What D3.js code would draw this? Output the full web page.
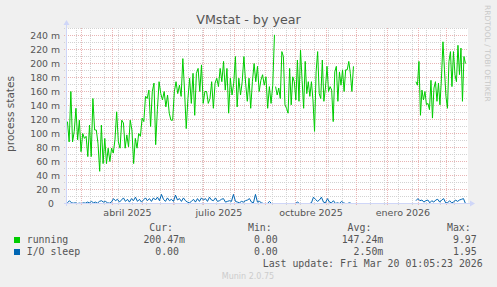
<!DOCTYPE html>
<html><head><meta charset="utf-8">
<script src="https://cdn.jsdelivr.net/npm/d3@7"></script>
<style>html,body{margin:0;padding:0;background:#f0f0f0;}svg{display:block}</style>
</head><body>
<svg id="c" width="497" height="287"></svg>
<script>
// ---------------- data ----------------
const yTicks = [0,20,40,60,80,100,120,140,160,180,200,220,240];
const xLabelMonths = ["2025-04-01","2025-07-01","2025-10-01","2026-01-01"];
const xLabelText = ["abril 2025","julio 2025","octubre 2025","enero 2026"];

// running (milli process states), traced in consecutive segments
const runningA1 = [117,88,160,88,103,136,91,119,74,100,93,96,67,112,67,150,105,105,86,46,
 112,57,93,57,79,60,79,72,91,131,88,79,119,115,79,98,81,119,105,57,
 93,79,100,96,122,117,153,150,162,110,160,172,84,134,174,157,148,160,138,155,
 129,119,119,160,174,157,169,153,207,162,107,150,179,143,186,126,186,193,160,198,
 143,160,160,143,150,174,136,172,179,167,193,174,203,162,193,129,179,155,172,210,
 138,179,155,174,210,172,146,179,136,174,200,174,196,160,176,184,169,181,136,167,
 143,169,241];
const runningA2 = [167,155,165,150,217,210,141,136,129,193,141,181,174,148,205,146,219,176,136,203,
 157,174,153,174,148,103,188,217,157,150,205,146,165,196,160,167,162,117,188,196,
 146,188,169,191,160,191,191,203,186,160,196];
const runningB = [174,169,203,126,162,148,160,141,143,134,176,122,165,174,146,172,141,179,231,191,
 153,136,203,217,167,217,184,174,226,184,222,146,210,200];
const runningStarts = ["2025-02-15T00:00","2025-09-11T04:00","2026-01-29T12:00"];
const runningEnds   = ["2025-09-10T00:00","2025-11-28T00:00","2026-03-20T00:00"];

// I/O sleep (milli)
const ioSleepA = [1,4,1,0.5,1,0,0.5,0,1,0.5,2,1,3,1,2,0.5,3,4,2,3,
 1,0.5,2,7,4,6,2,5,8,3,6,2,7,4,9,3,6,2,5,8,
 4,7,3,8,5,9,4,13,6,3,8,4,6,3,12,5,7,3,8,4,
 2,1,3,6,2,7,3,8,5,7,3,9,5,4,8,3,4,6,7,2,
 3,4,3,13,3,2,1,3,2,4,5,7,2,1,13,2,3,1,0,0,
 0,3,0,0,0,0,0,0,0,0,0,0,0,0,0,2,0,0,0,0,
 0,0,1,9,6,3,5,9,2,1,7,2,1,4,0,1,0,3,1,0,
 0,1,0,0];
const ioSleepB = [4,7,4,5,2,4,5,1,4,2,5,6,2,5,7,1,1,4,1,2,5,3,5,6,7,0];
const ioStarts = ["2025-02-15T00:00","2026-01-29T12:00"];
const ioEnds   = ["2025-11-28T00:00","2026-03-20T00:00"];

const legendNames = ["running","I/O sleep"];
const legendCur = ["200.47m","0.00"];
const legendMin = ["0.00","0.00"];
const legendAvg = ["147.24m","2.50m"];
const legendMax = ["9.97","1.95"];
const lastUpdate = "Last update: Fri Mar 20 01:05:23 2026";

// ---------------- chart ----------------
const colors = ["#00cc00","#0066b3"];
const parse = s => new Date(s + "Z");
const endTime = new Date(Date.UTC(2026,2,20,1,5,23));
const startTime = new Date(+endTime - 400*864e5);
const x = d3.scaleUtc().domain([startTime,endTime]).range([65.5,465.5]);
const y = d3.scaleLinear().domain([0,250]).range([203.5,28.5]);

function spread(vals, s, e){
  const t0 = +parse(s), t1 = +parse(e), n = vals.length;
  return vals.map((v,i)=>({t:new Date(t0 + (t1-t0)*i/(n-1)), v}));
}

const svg = d3.select("#c");
svg.append("rect").attr("width",497).attr("height",287).attr("fill","#f0f0f0");
svg.append("rect").attr("x",67).attr("y",28).attr("width",401).attr("height",175.5).attr("fill","#ffffff");

const grid = svg.append("g");
// minor horizontal
d3.range(10,251,10).filter(v=>v%20!==0).forEach(v=>{
  grid.append("line").attr("x1",64).attr("x2",468).attr("y1",y(v)).attr("y2",y(v))
   .attr("stroke","#d2d2d2").attr("stroke-dasharray","1,1");
});
// minor vertical, every two weeks
const minorStart = d3.utcMonday.ceil(new Date(Date.UTC(2025,1,24)));
d3.utcDay.range(minorStart, endTime, 14).forEach(d=>{
  grid.append("line").attr("x1",x(d)).attr("x2",x(d)).attr("y1",28).attr("y2",206)
   .attr("stroke","#d2d2d2").attr("stroke-dasharray","1,1");
});
// major horizontal
yTicks.filter(v=>v>0).forEach(v=>{
  grid.append("line").attr("x1",64).attr("x2",468).attr("y1",y(v)).attr("y2",y(v))
   .attr("stroke","#e8b4b4").attr("stroke-dasharray","1,1");
});
// major vertical (months)
d3.utcMonth.range(d3.utcMonth.ceil(startTime), endTime).forEach(d=>{
  grid.append("line").attr("x1",x(d)).attr("x2",x(d)).attr("y1",28).attr("y2",206)
   .attr("stroke","#e8b4b4").attr("stroke-dasharray","1,1");
});

// y tick labels
const fontSans = "DejaVu Sans, sans-serif";
yTicks.forEach(v=>{
  svg.append("text").attr("x", v===0 ? 54 : 60).attr("y", y(v)+3.3)
   .attr("text-anchor","end").attr("font-family",fontSans).attr("font-size","9.3px")
   .attr("fill","#555").text(v===0 ? "0" : v+" m");
});
// x labels at month midpoints
xLabelMonths.forEach((m,i)=>{
  const a = parse(m+"T00:00"), b = d3.utcMonth.offset(a,1);
  const mid = new Date((+a + +b)/2);
  svg.append("text").attr("x",x(mid)).attr("y",216).attr("text-anchor","middle")
   .attr("font-family",fontSans).attr("font-size","9.5px").attr("fill","#555").text(xLabelText[i]);
});

// series lines
const line = d3.line().x(d=>x(d.t)).y(d=>y(d.v));
[runningA1,runningA2,runningB].forEach((vals,i)=>{
  svg.append("path").attr("d",line(spread(vals,runningStarts[i],runningEnds[i])))
   .attr("fill","none").attr("stroke",colors[0]).attr("stroke-width",1);
});
[ioSleepA,ioSleepB].forEach((vals,i)=>{
  svg.append("path").attr("d",line(spread(vals,ioStarts[i],ioEnds[i])))
   .attr("fill","none").attr("stroke",colors[1]).attr("stroke-width",1);
});

// axes
const axisCol = "#cfd6f8";
svg.append("line").attr("x1",64).attr("x2",470).attr("y1",203.5).attr("y2",203.5).attr("stroke",axisCol);
svg.append("path").attr("d","M470,200.5L475,203.5L470,206.5Z").attr("fill",axisCol);
svg.append("line").attr("x1",66.5).attr("x2",66.5).attr("y1",206).attr("y2",25).attr("stroke",axisCol);
svg.append("path").attr("d","M63.5,25L66.5,20L69.5,25Z").attr("fill",axisCol);

// title
svg.append("text").attr("x",248.5).attr("y",24).attr("text-anchor","middle")
  .attr("font-family",fontSans).attr("font-size","12.7px").attr("fill","#555").text("VMstat - by year");
// y label
svg.append("text").attr("transform","translate(13.5,114) rotate(-90)").attr("text-anchor","middle")
  .attr("font-family",fontSans).attr("font-size","10.5px").attr("fill","#555").text("process states");
// rrdtool credit
svg.append("text").attr("transform","translate(485,5) rotate(90)").attr("text-anchor","start")
  .attr("font-family",fontSans).attr("font-size","7.5px").attr("fill","#c8c8c8").text("RRDTOOL / TOBI OETIKER");

// legend
const mono = "DejaVu Sans Mono, monospace";
const cw = 5.97;
const colEnds = [185, 283.7, 383.3, 482.7];
const heads = ["Cur:","Min:","Avg:","Max:"];
heads.forEach((h,i)=>{
  svg.append("text").attr("x",colEnds[i]-2*cw).attr("y",230.5).attr("text-anchor","end")
   .attr("font-family",mono).attr("font-size","9.9px").attr("fill","#555").text(h);
});
const cols = [legendCur,legendMin,legendAvg,legendMax];
legendNames.forEach((n,r)=>{
  const by = 243 + r*12;
  svg.append("rect").attr("x",14).attr("y",by-6).attr("width",6).attr("height",6).attr("fill",colors[r]);
  svg.append("text").attr("x",26.7).attr("y",by).attr("font-family",mono).attr("font-size","9.9px")
   .attr("fill","#555").text(n);
  cols.forEach((c,i)=>{
    const s = c[r]; const unit = /[a-zA-Z]$/.test(s);
    svg.append("text").attr("x",colEnds[i] - (unit?0:cw)).attr("y",by).attr("text-anchor","end")
     .attr("font-family",mono).attr("font-size","9.9px").attr("fill","#555").text(s);
  });
});
svg.append("text").attr("x",482.7).attr("y",266.7).attr("text-anchor","end")
  .attr("font-family",mono).attr("font-size","9.9px").attr("fill","#555").text(lastUpdate);
svg.append("text").attr("x",248).attr("y",278.7).attr("text-anchor","middle")
  .attr("font-family",fontSans).attr("font-size","8px").attr("fill","#cccccc").text("Munin 2.0.75");
</script>
</body></html>
